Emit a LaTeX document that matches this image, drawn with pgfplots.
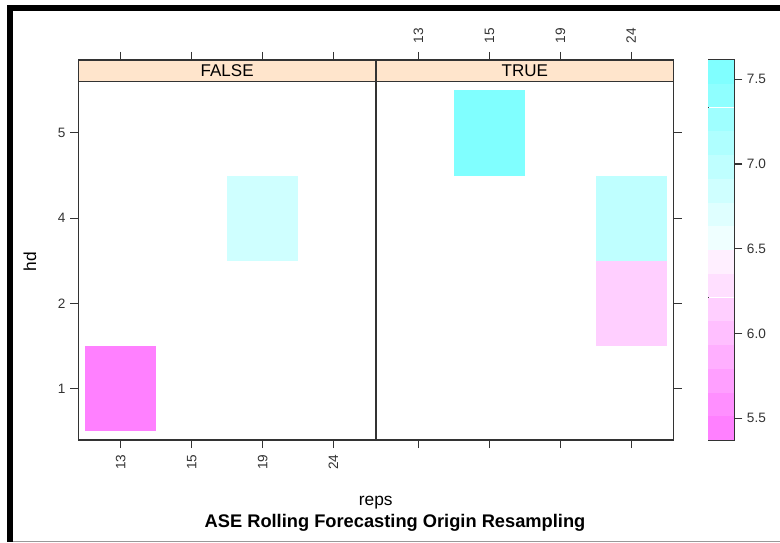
\documentclass[border=0pt]{standalone}
\usepackage{fontspec}
\setmainfont{Liberation Sans}
\usepackage{pgfplots}
\pgfplotsset{compat=1.18}
\usepackage{pgfplotstable}

\definecolor{stripbg}{HTML}{FFE5CC}
\definecolor{axcol}{HTML}{333333}

% one cell of the level plot (half a category step in each direction)
\pgfdeclareplotmark{cell}{%
  \pgfpathrectanglecorners{\pgfplotspointaxisdirectionxy{-0.5}{-0.5}}{\pgfplotspointaxisdirectionxy{0.5}{0.5}}%
  \pgfusepathqfill}
% one band of the colour key (16 bands between 5.372 and 7.614)
\pgfdeclareplotmark{band}{%
  \pgfpathrectanglecorners{\pgfplotspointaxisdirectionxy{-0.5}{-0.0700625}}{\pgfplotspointaxisdirectionxy{0.5}{0.0700625}}%
  \pgfusepathqfill}

\pgfplotsset{
  colormap={cmlevels}{
    rgb255(0cm)=(255,128,255) rgb255(1cm)=(255,143,255) rgb255(2cm)=(255,159,255) rgb255(3cm)=(255,175,255)
    rgb255(4cm)=(255,191,255) rgb255(5cm)=(255,207,255) rgb255(6cm)=(255,223,255) rgb255(7cm)=(255,239,255)
    rgb255(8cm)=(239,255,255) rgb255(9cm)=(223,255,255) rgb255(10cm)=(207,255,255) rgb255(11cm)=(191,255,255)
    rgb255(12cm)=(175,255,255) rgb255(13cm)=(159,255,255) rgb255(14cm)=(143,255,255) rgb255(15cm)=(128,255,255)
    rgb255(16cm)=(128,255,255)
  },
  colormap access=piecewise constant,
  /pgf/number format/assume math mode=true,
  common/.style={
    scale only axis, anchor=south west, height=285pt,
    tick align=outside, major tick length=6pt,
    axis line style={axcol, line width=0.9pt},
    major tick style={axcol, line width=0.9pt},
    tick label style={font=\fontsize{10.2}{12}\selectfont, text=axcol},
    point meta min=5.372, point meta max=7.614,
    axis on top,
  },
  panel/.style={
    common, width=223.3pt,
    xmin=0.4, xmax=4.6, ymin=0.4, ymax=4.854,
    xtick={1,2,3,4}, xticklabels={13,15,19,24},
    ytick={1,2,3,4}, yticklabels={1,2,4,5},
    xtick pos=both,
  },
  tiles/.style={
    scatter, only marks, mark=cell,
    scatter/use mapped color={draw=none, fill=mapped color},
    point meta=explicit,
  },
}

% reps: 1 = 13, 2 = 15, 3 = 19, 4 = 24;  hd: 1 = 1, 2 = 2, 3 = 4, 4 = 5
\pgfplotstableread{
x y ase
1 1 5.41
3 3 6.84
}\falsetiles
\pgfplotstableread{
x y ase
2 4 7.58
4 3 6.98
4 2 6.14
}\truetiles
\pgfplotstableread{
x lev
0.5 5.442
0.5 5.582
0.5 5.722
0.5 5.862
0.5 6.002
0.5 6.142
0.5 6.283
0.5 6.423
0.5 6.563
0.5 6.703
0.5 6.843
0.5 6.983
0.5 7.123
0.5 7.263
0.5 7.404
0.5 7.544
}\keybands

\begin{document}
\begin{tikzpicture}
\useasboundingbox (0,0) rectangle (585pt,406.5pt);
\fill[white] (0,0) rectangle (585pt,406.5pt);

% FALSE panel
\begin{axis}[panel, at={(58.7pt,76.5pt)},
  xticklabel pos=lower, ytick pos=left, yticklabel pos=left,
  xticklabel shift=1.5pt,
  xticklabel style={rotate=90, anchor=east}]
\addplot[tiles] table[x=x, y=y, meta=ase] {\falsetiles};
\draw[axcol, line width=0.9pt, fill=stripbg] (axis cs:0.4,4.6) rectangle (axis cs:4.6,4.854);
\node[font=\fontsize{12.75}{14}\selectfont] at (axis cs:2.5,4.727) {FALSE};
\end{axis}

% TRUE panel
\begin{axis}[panel, at={(282pt,76.5pt)},
  xticklabel pos=upper, ytick pos=right, yticklabels={,,,},
  xticklabel shift=3pt,
  xticklabel style={rotate=90, anchor=west}]
\addplot[tiles] table[x=x, y=y, meta=ase] {\truetiles};
\draw[axcol, line width=0.9pt, fill=stripbg] (axis cs:0.4,4.6) rectangle (axis cs:4.6,4.854);
\node[font=\fontsize{12.75}{14}\selectfont] at (axis cs:2.5,4.727) {TRUE};
\end{axis}

% colour key
\begin{axis}[common, at={(531.2pt,76.5pt)}, width=19.5pt,
  xmin=0, xmax=1, ymin=5.372, ymax=7.614, xtick=\empty,
  ytick={5.5,6,6.5,7,7.5}, ytick pos=right, yticklabel pos=right,
  yticklabel style={/pgf/number format/.cd, fixed, fixed zerofill, precision=1}]
\addplot[scatter, only marks, mark=band,
  scatter/use mapped color={draw=none, fill=mapped color},
  point meta=explicit] table[x=x, y=lev, meta=lev] {\keybands};
\end{axis}

% axis titles
\node[rotate=90, font=\fontsize{13}{15}\selectfont] at (22.5pt,210pt) {hd};
\node[anchor=base, font=\fontsize{13}{15}\selectfont] at (281.8pt,27.75pt) {reps};
\node[anchor=base, font=\bfseries\fontsize{13.7}{16}\selectfont] at (296.25pt,11pt) {ASE Rolling Forecasting Origin Resampling};

% outer frame
\fill[black] (5.5pt,0) rectangle (9.5pt,402.75pt);
\fill[black] (5.5pt,398.5pt) rectangle (585pt,402.75pt);
\fill[black!40] (9.5pt,0) rectangle (585pt,1.1pt);
\end{tikzpicture}
\end{document}
